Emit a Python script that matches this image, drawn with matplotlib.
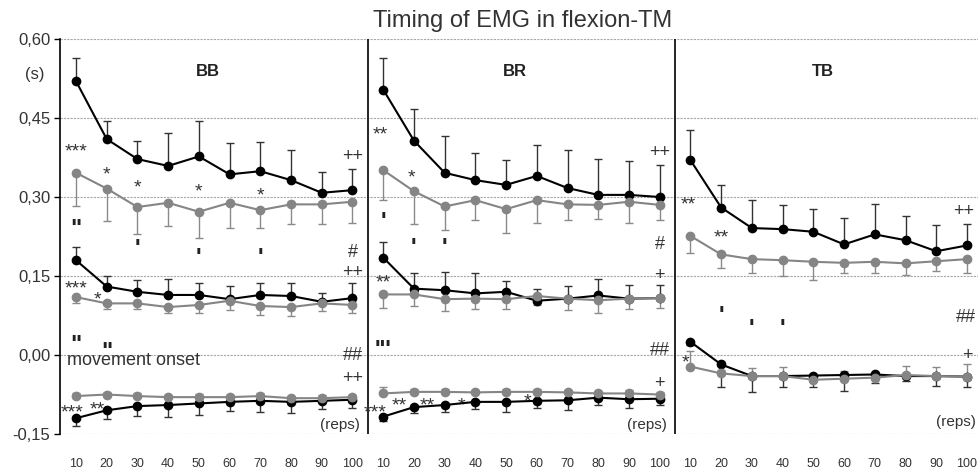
import numpy as np
import matplotlib
matplotlib.use("Agg")
import matplotlib.pyplot as plt

reps = ['10', '20', '30', '40', '50', '60', '70', '80', '90', '100']
muscles = ['BB', 'BR', 'TB']

# BB
bb_top_black = [0.520, 0.410, 0.372, 0.359, 0.377, 0.343, 0.349, 0.332, 0.308, 0.313]
bb_top_black_err = [0.043, 0.034, 0.034, 0.063, 0.067, 0.059, 0.055, 0.057, 0.039, 0.040]
bb_top_gray = [0.346, 0.316, 0.281, 0.289, 0.272, 0.289, 0.275, 0.286, 0.286, 0.291]
bb_top_gray_err = [0.063, 0.062, 0.051, 0.045, 0.049, 0.047, 0.033, 0.038, 0.038, 0.040]
bb_mid_black = [0.180, 0.130, 0.120, 0.114, 0.114, 0.106, 0.114, 0.112, 0.101, 0.108]
bb_mid_black_err = [0.026, 0.020, 0.022, 0.030, 0.023, 0.025, 0.023, 0.025, 0.016, 0.028]
bb_mid_gray = [0.110, 0.098, 0.098, 0.091, 0.095, 0.103, 0.093, 0.091, 0.098, 0.095]
bb_mid_gray_err = [0.012, 0.010, 0.010, 0.011, 0.015, 0.018, 0.017, 0.016, 0.014, 0.015]
bb_low_black = [-0.120, -0.105, -0.097, -0.095, -0.092, -0.089, -0.087, -0.089, -0.087, -0.085]
bb_low_black_err = [0.015, 0.017, 0.018, 0.022, 0.021, 0.017, 0.021, 0.022, 0.016, 0.015]
bb_low_gray = [-0.078, -0.075, -0.078, -0.080, -0.080, -0.080, -0.078, -0.082, -0.082, -0.080]
bb_low_gray_err = [0.006, 0.005, 0.006, 0.005, 0.006, 0.005, 0.006, 0.005, 0.006, 0.005]

# BR
br_top_black = [0.504, 0.407, 0.346, 0.332, 0.323, 0.340, 0.317, 0.304, 0.304, 0.300]
br_top_black_err = [0.059, 0.061, 0.069, 0.052, 0.047, 0.058, 0.072, 0.069, 0.064, 0.060]
br_top_gray = [0.351, 0.311, 0.282, 0.294, 0.277, 0.294, 0.286, 0.285, 0.291, 0.285]
br_top_gray_err = [0.057, 0.063, 0.045, 0.038, 0.046, 0.043, 0.030, 0.027, 0.040, 0.029]
br_mid_black = [0.185, 0.126, 0.123, 0.117, 0.120, 0.103, 0.107, 0.113, 0.107, 0.108]
br_mid_black_err = [0.030, 0.030, 0.035, 0.039, 0.021, 0.023, 0.024, 0.032, 0.026, 0.025]
br_mid_gray = [0.115, 0.115, 0.106, 0.107, 0.106, 0.112, 0.107, 0.104, 0.107, 0.108]
br_mid_gray_err = [0.026, 0.022, 0.022, 0.020, 0.019, 0.018, 0.022, 0.025, 0.020, 0.019]
br_low_black = [-0.117, -0.099, -0.095, -0.089, -0.089, -0.087, -0.086, -0.081, -0.084, -0.083]
br_low_black_err = [0.008, 0.012, 0.013, 0.013, 0.020, 0.014, 0.018, 0.013, 0.016, 0.011]
br_low_gray = [-0.073, -0.070, -0.070, -0.071, -0.070, -0.070, -0.071, -0.073, -0.073, -0.075]
br_low_gray_err = [0.012, 0.006, 0.005, 0.005, 0.006, 0.005, 0.005, 0.005, 0.006, 0.005]

# TB (no middle pair)
tb_top_black = [0.370, 0.280, 0.241, 0.239, 0.234, 0.210, 0.229, 0.218, 0.197, 0.208]
tb_top_black_err = [0.057, 0.043, 0.053, 0.046, 0.044, 0.050, 0.058, 0.046, 0.050, 0.040]
tb_top_gray = [0.226, 0.191, 0.182, 0.180, 0.177, 0.175, 0.177, 0.174, 0.178, 0.182]
tb_top_gray_err = [0.033, 0.026, 0.027, 0.030, 0.035, 0.020, 0.022, 0.023, 0.018, 0.026]
tb_low_black = [0.025, -0.018, -0.040, -0.040, -0.039, -0.038, -0.037, -0.040, -0.040, -0.041]
tb_low_black_err = [0.006, 0.043, 0.030, 0.021, 0.021, 0.030, 0.017, 0.010, 0.019, 0.020]
tb_low_gray = [-0.022, -0.035, -0.040, -0.040, -0.047, -0.045, -0.043, -0.038, -0.040, -0.041]
tb_low_gray_err = [0.030, 0.006, 0.015, 0.017, 0.006, 0.015, 0.006, 0.018, 0.018, 0.023]

# significance marks: (panel, rep index, y, text)
marks = [
    (0, 0, 0.400, '***'), (0, 1, 0.356, '*'), (0, 2, 0.330, '*'), (0, 4, 0.324, '*'),
    (0, 6, 0.315, '*'), (0, 9, 0.381, '++'), (0, 9, 0.198, '#'), (0, 9, 0.161, '++'),
    (0, 0, 0.139, '***'), (0, 0.7, 0.118, '*'), (0, 9, 0.003, '##'), (0, 9, -0.042, '++'),
    (0, -0.13, -0.097, '***'), (0, 0.68, -0.090, '**'),
    (1, -0.1, 0.432, '**'), (1, 0.92, 0.349, '*'), (1, 9, 0.387, '++'), (1, 9, 0.213, '#'),
    (1, 0, 0.150, '**'), (1, 9, 0.155, '+'), (1, 9, 0.012, '##'), (1, 9, -0.050, '+'),
    (1, -0.28, -0.097, '***'), (1, 0.53, -0.084, '**'), (1, 1.43, -0.084, '**'),
    (1, 2.54, -0.084, '*'), (1, 4.68, -0.075, '*'),
    (2, -0.07, 0.299, '**'), (2, 1.0, 0.235, '**'), (2, 8.9, 0.275, '++'),
    (2, 8.96, 0.075, '##'), (2, -0.17, -0.002, '*'), (2, 9, 0.003, '+'),
]
tick_marks = [
    (0, 0, 0.252, '"'), (0, 2, 0.215, "'"), (0, 4, 0.198, "'"), (0, 6, 0.198, "'"),
    (0, 0, 0.032, '"'), (0, 1, 0.019, '"'),
    (1, 0, 0.267, "'"), (1, 1, 0.216, "'"), (1, 2, 0.216, "'"), (1, 0, 0.024, "'''"),
    (2, 1, 0.087, "'"), (2, 2, 0.063, "'"), (2, 3, 0.063, "'"),
]

FONT = ['Liberation Sans', 'DejaVu Sans']
BLACK = '#000000'
GRAY = '#858585'
TXT = '#333333'

fig = plt.figure(figsize=(9.79, 4.73), dpi=100)
ax = fig.add_axes([60 / 979, 1 - 434 / 473, 1 - 60 / 979 - 0.001, (434 - 39) / 473])


def draw(ax, offset, vals, err, color, ecolor, up):
    x = np.arange(10) + offset
    zeros = np.zeros(len(err))
    yerr = [zeros, err] if up else [err, zeros]
    ax.errorbar(x, vals, yerr=yerr, color=color, ecolor=ecolor, lw=1.5,
                elinewidth=1.0, capsize=3, capthick=1.0, marker='o', ms=6,
                mec=color, mfc=color, zorder=3)


def mark(ax, x, y, s, fs, lift, **kw):
    # place glyph so that its visual centre sits on (x, y)
    ax.annotate(s, (x, y), xytext=(0, -lift * fs), textcoords='offset points',
                ha='center', va='baseline', fontsize=fs, family=FONT, **kw)


panels = [
    [(bb_top_black, bb_top_black_err, bb_top_gray, bb_top_gray_err, True),
     (bb_mid_black, bb_mid_black_err, bb_mid_gray, bb_mid_gray_err, True),
     (bb_low_black, bb_low_black_err, bb_low_gray, bb_low_gray_err, False)],
    [(br_top_black, br_top_black_err, br_top_gray, br_top_gray_err, True),
     (br_mid_black, br_mid_black_err, br_mid_gray, br_mid_gray_err, True),
     (br_low_black, br_low_black_err, br_low_gray, br_low_gray_err, False)],
    [(tb_top_black, tb_top_black_err, tb_top_gray, tb_top_gray_err, True),
     (tb_low_black, tb_low_black_err, tb_low_gray, tb_low_gray_err, False)],
]

for p, pairs in enumerate(panels):
    off = p * 10
    for blk, blk_err, gry, gry_err, black_up in pairs:
        draw(ax, off, blk, blk_err, BLACK, '#333333', black_up)
        draw(ax, off, gry, gry_err, GRAY, '#8a8a8a', not black_up)
    ax.text(off + 4.3, 0.539, muscles[p], ha='center', va='center', fontsize=12,
            fontweight='bold', family=FONT, color='#222222')
    reps_x = 8.6 if p < 2 else 8.64
    reps_y = -0.133 if p < 2 else -0.127
    ax.text(off + reps_x, reps_y, '(reps)', ha='center', va='center', fontsize=11,
            family=FONT, color=TXT)

for p, i, y, s in marks:
    if '*' in s:
        mark(ax, p * 10 + i, y, s, 14, 0.6, color=TXT)
    else:
        mark(ax, p * 10 + i, y, s, 13, 0.35, color=TXT)
for p, i, y, s in tick_marks:
    mark(ax, p * 10 + i, y, s, 17, 0.6, color='#222222', fontweight='bold')

ax.text(-0.29, -0.010, 'movement onset', ha='left', va='center', fontsize=13,
        family=FONT, color=TXT)

ax.set_xlim(-0.52, 29.36)
ax.set_ylim(-0.15, 0.60)
yt = [-0.15, 0.0, 0.15, 0.30, 0.45, 0.60]
ax.set_yticks(yt)
ax.set_yticklabels([('%.2f' % v).replace('.', ',') for v in yt], family=FONT,
                   fontsize=12, color=TXT)
ax.tick_params(axis='y', length=4, width=1.0, pad=3)
xt = [p * 10 + i for p in range(3) for i in range(10)]
ax.set_xticks(xt)
ax.set_xticklabels(reps * 3, family=FONT, fontsize=9, color=TXT)
ax.tick_params(axis='x', length=0, pad=17)

ax.yaxis.grid(True, linestyle=(0, (2, 1)), color='#a8a8a8', lw=0.8)
ax.set_axisbelow(True)
for s in ['top', 'right', 'bottom']:
    ax.spines[s].set_visible(False)
ax.spines['left'].set_linewidth(1.2)
ax.axvline(9.5, color='black', lw=1.2, zorder=2)
ax.axvline(19.5, color='black', lw=1.2, zorder=2)

ax.text(-1.33, 0.533, '(s)', ha='center', va='center', fontsize=12, family=FONT,
        color=TXT, clip_on=False)
fig.text(523 / 979, 1 - 21 / 473, 'Timing of EMG in flexion-TM', ha='center', va='center',
         fontsize=17, family=FONT, color=TXT)

fig.savefig('out.png', dpi=100)
